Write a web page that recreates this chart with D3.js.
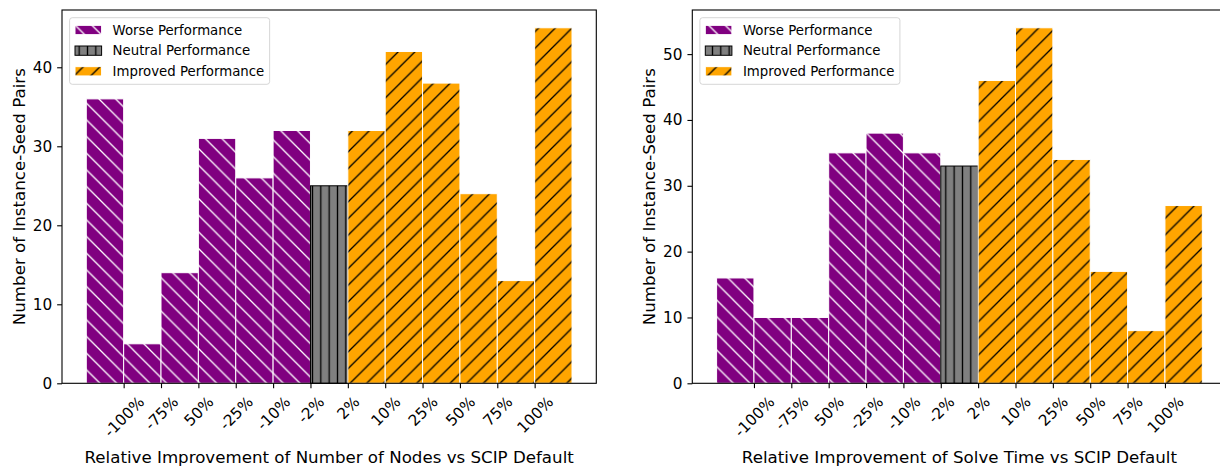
<!DOCTYPE html>
<html><head><meta charset="utf-8">
<script src="https://cdn.jsdelivr.net/npm/d3@7"></script>
<style>
body{margin:0;background:#fff}
svg{display:block}
text{font-family:"DejaVu Sans",sans-serif}
</style>
</head><body>
<svg id="chart" width="1220" height="470"></svg>
<script>
// ---- data ----
const tickLabels = ["-100%","-75%","50%","-25%","-10%","-2%","2%","10%","25%","50%","75%","100%"];
const binCategory = ["worse","worse","worse","worse","worse","worse","neutral","improved","improved","improved","improved","improved","improved"];
const nodesCounts = [36,5,14,31,26,32,25,32,42,38,24,13,45];
const timeCounts  = [16,10,10,35,38,35,33,46,54,34,17,8,27];
const yTicksNodes = [0,10,20,30,40];
const yTicksTime  = [0,10,20,30,40,50];
const legendKeys   = ["worse","neutral","improved"];
const legendLabels = ["Worse Performance","Neutral Performance","Improved Performance"];
const xLabelNodes = "Relative Improvement of Number of Nodes vs SCIP Default";
const xLabelTime  = "Relative Improvement of Solve Time vs SCIP Default";
const yLabelText  = "Number of Instance-Seed Pairs";

// ---- styles ----
const styles = {
  worse:    {fill:"#800080", hatch:"#ffffff", edge:"#ffffff", pat:"back"},
  neutral:  {fill:"#808080", hatch:"#000000", edge:"#000000", pat:"vert"},
  improved: {fill:"#ffa500", hatch:"#000000", edge:"#ffffff", pat:"fwd"}
};
const tickFs = 15.3, labelFs = 16.67, legendFs = 13.3;
const tickLen = 4.86, tickPad = 4.86;
const axTop = 10, axBottom = 383.3, axW = 534.3;

const svg = d3.select("#chart");
svg.append("rect").attr("width",1220).attr("height",470).attr("fill","#fff");
const defs = svg.append("defs");

function makePattern(key){
  const st = styles[key];
  const s = st.pat === "vert" ? 8.333 : 16.667;
  const p = defs.append("pattern").attr("id","pat-"+key)
    .attr("patternUnits","userSpaceOnUse").attr("width",s).attr("height",s);
  p.append("rect").attr("width",s).attr("height",s).attr("fill",st.fill);
  let d;
  if (st.pat === "vert") d = `M${s/2},-1 V${s+1}`;
  else if (st.pat === "fwd") d = `M0,${s} L${s},0 M-4,4 L4,-4 M${s-4},${s+4} L${s+4},${s-4}`;
  else d = `M0,0 L${s},${s} M-4,${s-4} L4,${s+4} M${s-4},-4 L${s+4},4`;
  p.append("path").attr("d",d).attr("stroke",st.hatch).attr("stroke-width",1.3).attr("fill","none");
}
legendKeys.forEach(makePattern);

function panel(left, counts, yTicks, xLabel){
  const g = svg.append("g");
  const x = d3.scaleLinear().domain([-0.65, counts.length + 0.65]).range([left, left + axW]);
  const ymax = d3.max(counts) * 1.05;
  const y = d3.scaleLinear().domain([0, ymax]).range([axBottom, axTop]);

  // bars
  g.selectAll("rect.bar").data(counts).enter().append("rect").attr("class","bar")
    .attr("x",(d,i)=>x(i)).attr("width",(d,i)=>x(i+1)-x(i))
    .attr("y",d=>y(d)).attr("height",d=>y(0)-y(d))
    .attr("fill",(d,i)=>`url(#pat-${binCategory[i]})`)
    .attr("stroke",(d,i)=>styles[binCategory[i]].edge)
    .attr("stroke-width",1);

  // y axis
  const ya = g.append("g").attr("transform",`translate(${left},0)`)
    .call(d3.axisLeft(y).tickValues(yTicks).tickSize(tickLen).tickPadding(tickPad));
  ya.select(".domain").remove();
  ya.selectAll("line").attr("stroke","#000").attr("stroke-width",1.1);
  ya.selectAll("text").attr("font-size",tickFs).attr("fill","#000")
    .attr("font-family","DejaVu Sans, sans-serif");

  // x axis
  const xa = g.append("g").attr("transform",`translate(0,${axBottom})`)
    .call(d3.axisBottom(x).tickValues(d3.range(1, tickLabels.length + 1))
      .tickSize(tickLen).tickPadding(tickPad).tickFormat(i => tickLabels[i-1]));
  xa.select(".domain").remove();
  xa.selectAll("line").attr("stroke","#000").attr("stroke-width",1.1);
  xa.selectAll("text").attr("font-size",tickFs).attr("fill","#000")
    .attr("font-family","DejaVu Sans, sans-serif")
    .each(function(){
      const w = this.getComputedTextLength();
      const h = 1.164 * tickFs;
      const half = (w + h) / (2 * Math.SQRT2);
      d3.select(this).attr("x",0).attr("y",0).attr("dy","0.346em")
        .attr("text-anchor","middle")
        .attr("transform",`translate(0,${tickLen + tickPad + half}) rotate(-45)`);
    });

  // spines
  g.append("rect").attr("x",left).attr("y",axTop).attr("width",axW).attr("height",axBottom-axTop)
    .attr("fill","none").attr("stroke","#000").attr("stroke-width",1.1);

  // axis labels
  g.append("text").attr("x",(x.range()[0]+x.range()[1])/2)
    .attr("y",463.3).attr("text-anchor","middle").attr("font-size",labelFs).attr("fill","#000")
    .text(xLabel);
  g.append("text").attr("transform",`translate(${left - 37.5},${(axTop+axBottom)/2}) rotate(-90)`)
    .attr("text-anchor","middle").attr("font-size",labelFs).attr("fill","#000")
    .text(yLabelText);

  // legend
  const lg = g.append("g");
  const box = lg.append("rect").attr("x",left + 7.6).attr("y",17.7).attr("height",66.6)
    .attr("rx",2.7).attr("fill","#fff").attr("fill-opacity",0.8)
    .attr("stroke","#cccccc").attr("stroke-opacity",0.8).attr("stroke-width",1);
  let maxW = 0;
  legendKeys.forEach((k,i)=>{
    const cy = 30 + i * 20.65;
    lg.append("rect").attr("x",left + 13).attr("y",cy - 4.65).attr("width",26.6).attr("height",9.3)
      .attr("fill",`url(#pat-${k})`).attr("stroke",styles[k].edge).attr("stroke-width",1);
    const t = lg.append("text").attr("x",left + 50.6).attr("y",cy).attr("dy","0.36em")
      .attr("font-size",legendFs).attr("fill","#000").text(legendLabels[i]);
    maxW = Math.max(maxW, t.node().getComputedTextLength());
  });
  box.attr("width", 50.6 + maxW + 5.4 - 7.6);
}

panel(62, nodesCounts, yTicksNodes, xLabelNodes);
panel(692.3, timeCounts, yTicksTime, xLabelTime);
</script>
</body></html>
